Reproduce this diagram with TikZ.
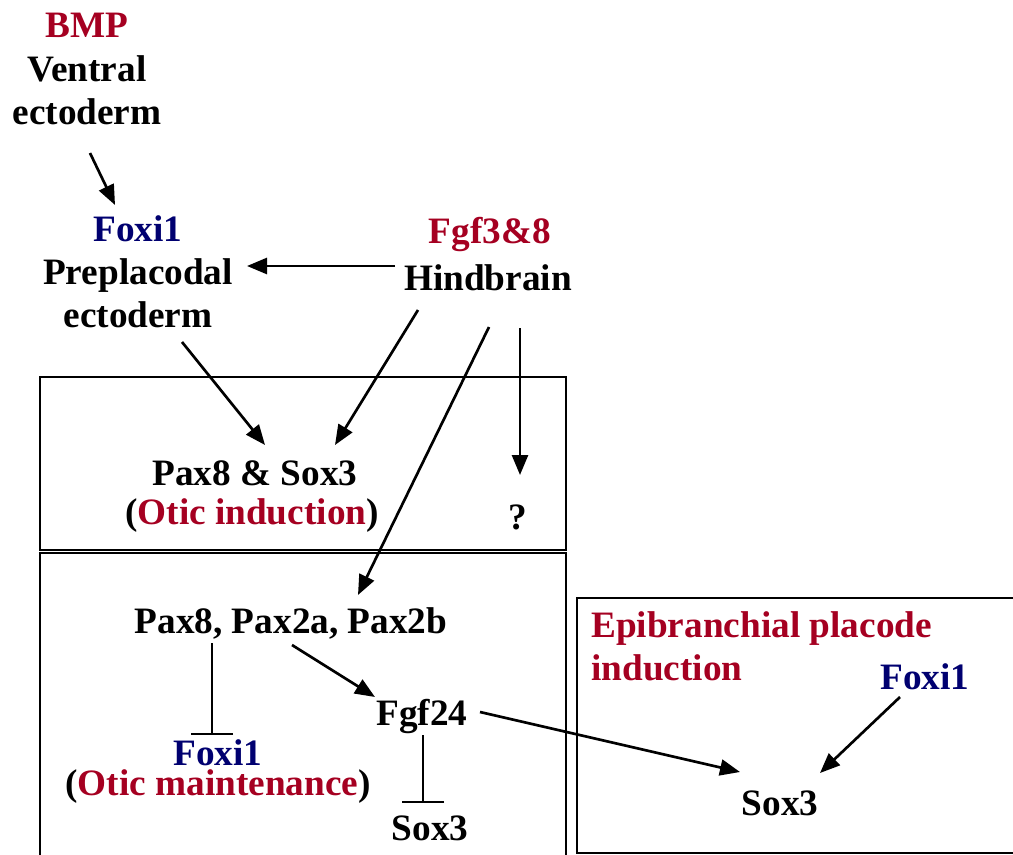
\documentclass[tikz,border=0pt]{standalone}
\usepackage{fontspec}
\setmainfont{Liberation Serif}
\usetikzlibrary{arrows.meta}
\definecolor{sigred}{RGB}{165,0,33}
\definecolor{signavy}{RGB}{0,0,112}
\tikzset{
  lbl/.style={font=\fontsize{26.5pt}{30.5pt}\selectfont\bfseries, align=center, inner sep=0pt},
  act/.style={-{Triangle[length=0.5cm, width=0.4cm]}, line width=1.9pt},
  inh/.style={-{Bar[width=1.05cm, line width=1.2pt]}, line width=1.1pt},
  panel/.style={draw=black, line width=1.1pt}
}
\begin{document}
\begin{tikzpicture}[x=0.025cm, y=-0.025cm]
\useasboundingbox (0, 0) rectangle (1013, 855);
% panels
\draw[panel] (40, 377) rectangle (566, 550);
\draw[panel] (40, 553) rectangle (566, 870);
\draw[panel] (577, 598) rectangle (1030, 853);
% upstream signals
\node[lbl, sigred] (bmp) at (87, 25) {BMP};
\node[lbl] (ventral) at (87, 90) {Ventral\\ectoderm};
\node[lbl, signavy] (foxiA) at (138, 229) {Foxi1};
\node[lbl] (preplac) at (138, 293) {Preplacodal\\ectoderm};
\node[lbl, sigred] (fgf) at (490, 234) {Fgf3\&8};
\node[lbl] (hind) at (488, 278) {Hindbrain};
% otic induction
\node[lbl] (paxsox) at (255, 473) {Pax8 \& Sox3};
\node[lbl] (oticind) at (252, 516) {(\textcolor{sigred}{Otic induction})};
\node[lbl] (q) at (518, 517) {?};
% otic maintenance
\node[lbl] (pax) at (291, 623) {Pax8, Pax2a, Pax2b};
\node[lbl, font=\fontsize{26.5pt}{21.3pt}\selectfont\bfseries] (oticmain) at (218, 772) {\textcolor{signavy}{Foxi1}\\(\textcolor{sigred}{Otic maintenance})};
\node[lbl] (fgf24) at (422, 716) {Fgf24};
\node[lbl] (soxA) at (430, 828) {Sox3};
% epibranchial
\node[lbl, sigred, align=left, anchor=west] (epi) at (591, 646) {Epibranchial placode\\induction};
\node[lbl, signavy] (foxiC) at (925, 677) {Foxi1};
\node[lbl] (soxB) at (780, 803) {Sox3};
% connectors
\draw[act] ([shift={(3, 63)}]ventral.center) -- ([shift={(-23, -24)}]foxiA.center);
\draw[act] ([shift={(-93, -12)}]hind.center) -- ([shift={(109, -27)}]preplac.center);
\draw[act] ([shift={(44, 49)}]preplac.center) -- ([shift={(10, -28)}]paxsox.center);
\draw[act] ([shift={(-70, 32)}]hind.center) -- ([shift={(80, -28)}]paxsox.center);
\draw[act] ([shift={(1, 49)}]hind.center) -- ([shift={(67, -28)}]pax.center);
\draw[act] ([shift={(32, 50)}]hind.center) -- ([shift={(2, -42)}]q.center);
\draw[inh] ([shift={(-79, 20)}]pax.center) -- ([shift={(-6, -37)}]oticmain.center);
\draw[act] ([shift={(1, 22)}]pax.center) -- ([shift={(-47, -19)}]fgf24.center);
\draw[inh] ([shift={(1, 19)}]fgf24.center) -- ([shift={(-7, -25)}]soxA.center);
\draw[act] ([shift={(58, -4)}]fgf24.center) -- ([shift={(-40, -31)}]soxB.center);
\draw[act] ([shift={(-25, 20)}]foxiC.center) -- ([shift={(40, -30)}]soxB.center);
\end{tikzpicture}
\end{document}
